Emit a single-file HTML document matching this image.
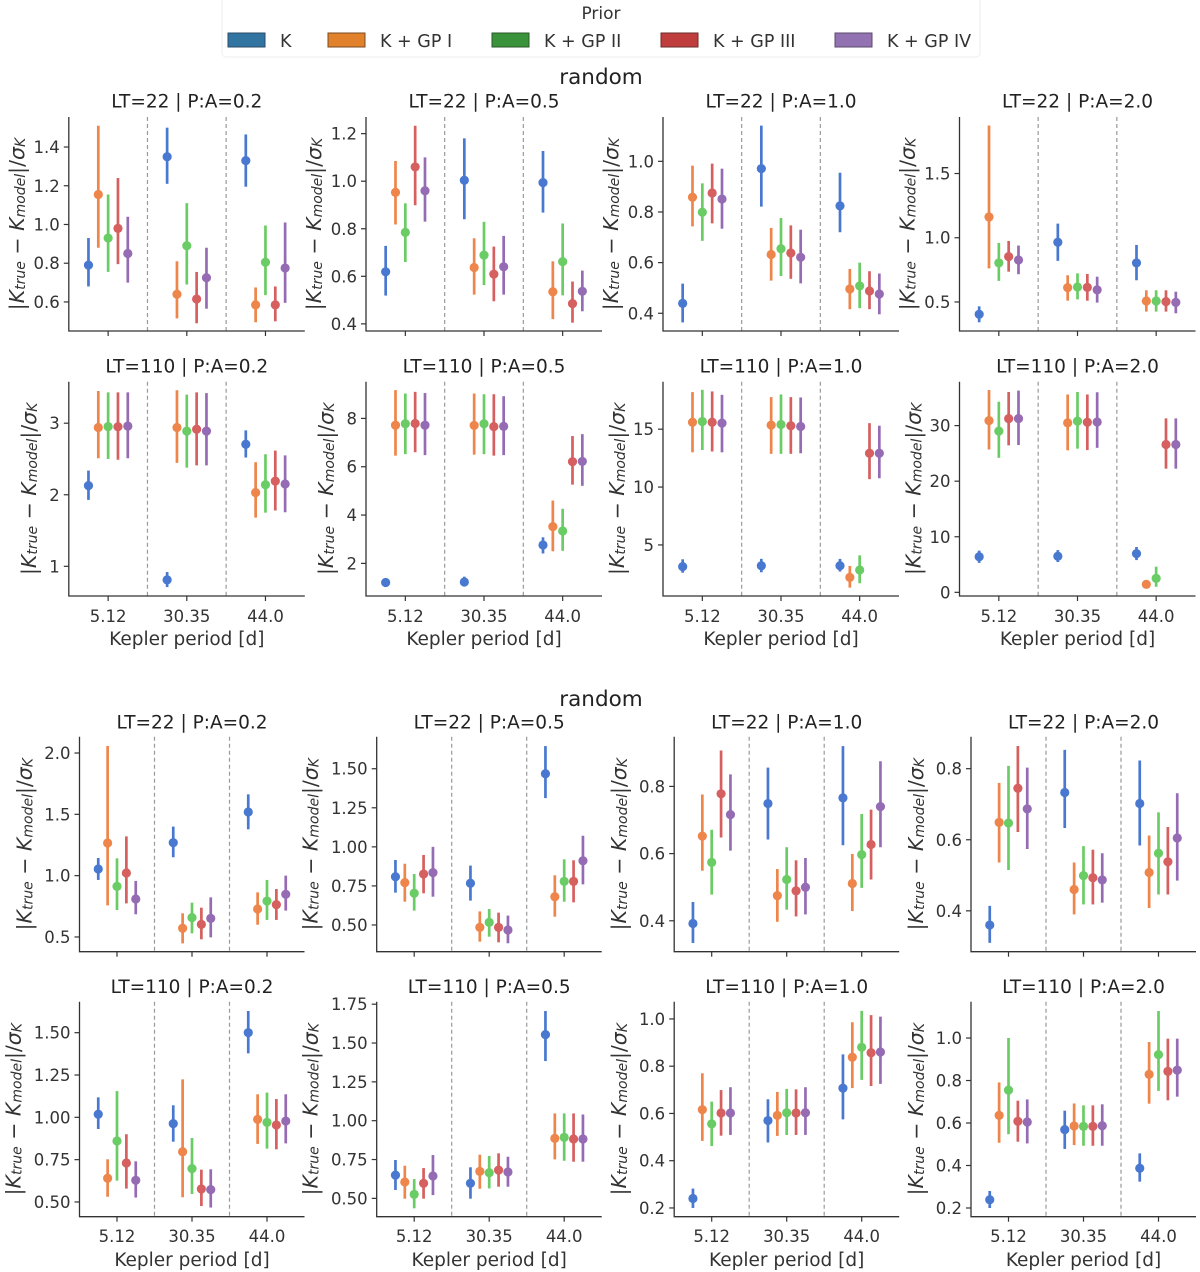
<!DOCTYPE html>
<html><head><meta charset="utf-8">
<style>
html,body{margin:0;padding:0;background:#fff;}
svg{display:block;font-family:"DejaVu Sans","Liberation Sans",sans-serif;}
</style></head>
<body>
<svg id="fig" width="1200" height="1272" viewBox="0 0 1200 1272" xmlns="http://www.w3.org/2000/svg">
  <g>
    <rect x="222" y="-4" width="758" height="61" rx="4" fill="#fff" stroke="#eeeeee" stroke-width="1"/>
    <text x="601" y="19" font-size="17" fill="#333" text-anchor="middle">Prior</text>
    <g><rect x="228" y="33" width="37" height="14" fill="#3274a1" stroke="#2a4d6a" stroke-width="1"/><text x="280" y="47" font-size="17.5" fill="#333">K</text></g>
    <g><rect x="328" y="33" width="37" height="14" fill="#e1812c" stroke="#7a4a20" stroke-width="1"/><text x="380" y="47" font-size="17.5" fill="#333">K + GP I</text></g>
    <g><rect x="492" y="33" width="37" height="14" fill="#3a923a" stroke="#2a5a2a" stroke-width="1"/><text x="544" y="47" font-size="17.5" fill="#333">K + GP II</text></g>
    <g><rect x="661" y="33" width="37" height="14" fill="#c03d3e" stroke="#6a2a2a" stroke-width="1"/><text x="713" y="47" font-size="17.5" fill="#333">K + GP III</text></g>
    <g><rect x="835" y="33" width="37" height="14" fill="#9372b2" stroke="#5a4a6a" stroke-width="1"/><text x="887" y="47" font-size="17.5" fill="#333">K + GP IV</text></g>
  </g>
  <text x="601" y="84" font-size="21.5" fill="#222" text-anchor="middle">random</text>
  <text x="601" y="706" font-size="21.5" fill="#222" text-anchor="middle">random</text>
</svg>
<script>
// ---------- data ----------
const categories = ['5.12','30.35','44.0'];
const priors = ['K','K + GP I','K + GP II','K + GP III','K + GP IV'];
const colors = ['#4878d0','#ee854a','#6acc64','#d65f5f','#956cb4'];
const titles = ['LT=22 | P:A=0.2','LT=22 | P:A=0.5','LT=22 | P:A=1.0','LT=22 | P:A=2.0',
                'LT=110 | P:A=0.2','LT=110 | P:A=0.5','LT=110 | P:A=1.0','LT=110 | P:A=2.0'];

// top figure: per panel [prior][category]
const t1_mean=[[0.79,1.35,1.33],[1.155,0.64,0.585],[0.93,0.89,0.805],[0.98,0.615,0.585],[0.85,0.725,0.775]];
const t1_lo=[[0.68,1.21,1.195],[0.88,0.515,0.495],[0.755,0.69,0.635],[0.795,0.49,0.50],[0.70,0.565,0.595]];
const t1_hi=[[0.93,1.50,1.465],[1.51,0.81,0.675],[1.155,1.11,0.995],[1.24,0.755,0.68],[1.04,0.88,1.01]];
const t2_mean=[[0.619,1.004,0.994],[0.953,0.637,0.535],[0.785,0.689,0.662],[1.06,0.609,0.485],[0.96,0.64,0.537]];
const t2_lo=[[0.519,0.84,0.868],[0.818,0.523,0.42],[0.66,0.563,0.52],[0.899,0.495,0.405],[0.83,0.523,0.453]];
const t2_hi=[[0.728,1.18,1.127],[1.085,0.76,0.663],[0.907,0.829,0.822],[1.233,0.725,0.578],[1.1,0.77,0.624]];
const t3_mean=[[0.439,0.971,0.824],[0.858,0.632,0.496],[0.799,0.655,0.508],[0.875,0.638,0.488],[0.851,0.621,0.476]];
const t3_lo=[[0.364,0.821,0.72],[0.743,0.529,0.416],[0.686,0.547,0.42],[0.755,0.536,0.416],[0.734,0.518,0.396]];
const t3_hi=[[0.517,1.141,0.955],[0.983,0.737,0.575],[0.913,0.776,0.6],[0.991,0.747,0.566],[0.971,0.730,0.557]];
const t4_mean=[[0.404,0.965,0.804],[1.162,0.612,0.508],[0.804,0.617,0.508],[0.853,0.614,0.503],[0.827,0.594,0.497]];
const t4_lo=[[0.342,0.82,0.669],[0.762,0.51,0.425],[0.664,0.52,0.425],[0.736,0.51,0.425],[0.716,0.495,0.412]];
const t4_hi=[[0.466,1.11,0.944],[1.874,0.708,0.591],[0.96,0.723,0.591],[0.975,0.718,0.591],[0.939,0.697,0.58]];
const t5_mean=[[2.128,0.81,2.706],[2.94,2.94,2.03],[2.953,2.89,2.14],[2.95,2.915,2.19],[2.96,2.89,2.15]];
const t5_lo=[[1.928,0.71,2.52],[2.51,2.445,1.68],[2.5,2.38,1.75],[2.49,2.41,1.78],[2.51,2.41,1.755]];
const t5_hi=[[2.338,0.92,2.9],[3.45,3.46,2.455],[3.43,3.4,2.566],[3.43,3.43,2.617],[3.43,3.42,2.55]];
const t6_mean=[[1.21,1.23,2.76],[7.72,7.71,3.52],[7.78,7.78,3.34],[7.79,7.66,6.21],[7.72,7.67,6.22]];
const t6_lo=[[1.03,1.06,2.41],[6.46,6.5,2.5],[6.52,6.52,2.52],[6.6,6.46,5.26],[6.48,6.48,5.21]];
const t6_hi=[[1.37,1.45,3.08],[9.17,9.03,4.6],[9.03,9.0,4.26],[9.1,9.0,7.27],[9.05,8.92,7.35]];
const t7_mean=[[3.13,3.2,3.2],[15.6,15.35,2.2],[15.66,15.4,2.84],[15.6,15.3,12.92],[15.52,15.23,12.92]];
const t7_lo=[[2.6,2.64,2.7],[13.0,12.87,1.31],[13.2,12.87,1.69],[13.07,12.87,10.68],[13.0,12.92,10.76]];
const t7_hi=[[3.76,3.8,3.8],[18.2,17.77,3.18],[18.4,18.0,4.1],[18.26,17.77,15.52],[17.97,17.74,15.3]];
const t8_mean=[[6.4,6.5,6.96],[30.9,30.5,1.44],[29.0,30.8,2.52],[31.25,30.6,26.6],[31.25,30.65,26.6]];
const t8_lo=[[5.3,5.45,5.8],[25.7,25.55,0.96],[24.2,25.85,1.0],[26.45,25.6,22.25],[26.5,26.0,22.25]];
const t8_hi=[[7.5,7.6,8.16],[36.4,35.6,1.86],[34.3,36.05,4.62],[36.05,35.6,31.3],[36.3,36.0,31.3]];

// bottom figure
const b1_mean=[[1.054,1.269,1.519],[1.266,0.571,0.728],[0.913,0.658,0.793],[1.022,0.603,0.764],[0.81,0.652,0.848]];
const b1_lo=[[0.965,1.15,1.378],[0.758,0.448,0.6],[0.72,0.53,0.639],[0.774,0.481,0.639],[0.685,0.497,0.715]];
const b1_hi=[[1.144,1.4,1.663],[2.057,0.693,0.864],[1.141,0.78,0.965],[1.32,0.739,0.891],[0.957,0.823,1.0]];
const b2_mean=[[0.809,0.767,1.468],[0.771,0.485,0.681],[0.703,0.517,0.779],[0.826,0.485,0.779],[0.835,0.468,0.911]];
const b2_lo=[[0.707,0.656,1.312],[0.649,0.393,0.553],[0.592,0.425,0.649],[0.703,0.389,0.645],[0.681,0.383,0.76]];
const b2_hi=[[0.916,0.88,1.645],[0.892,0.587,0.818],[0.826,0.602,0.92],[0.948,0.579,0.914],[1.0,0.56,1.071]];
const b3_mean=[[0.392,0.749,0.766],[0.652,0.475,0.511],[0.574,0.523,0.597],[0.778,0.489,0.627],[0.716,0.5,0.74]];
const b3_lo=[[0.334,0.642,0.625],[0.549,0.397,0.429],[0.478,0.433,0.498],[0.648,0.413,0.523],[0.609,0.419,0.619]];
const b3_hi=[[0.456,0.856,0.92],[0.776,0.554,0.599],[0.671,0.619,0.718],[0.907,0.58,0.731],[0.836,0.587,0.875]];
const b4_mean=[[0.36,0.733,0.702],[0.649,0.46,0.508],[0.647,0.499,0.562],[0.745,0.493,0.538],[0.687,0.487,0.605]];
const b4_lo=[[0.31,0.633,0.584],[0.536,0.39,0.408],[0.515,0.418,0.446],[0.622,0.418,0.446],[0.574,0.423,0.485]];
const b4_hi=[[0.414,0.853,0.823],[0.76,0.536,0.612],[0.808,0.582,0.677],[0.864,0.572,0.636],[0.803,0.562,0.731]];
const b5_mean=[[1.018,0.963,1.5],[0.64,0.797,0.988],[0.86,0.697,0.97],[0.73,0.577,0.955],[0.628,0.573,0.978]];
const b5_lo=[[0.931,0.856,1.378],[0.531,0.528,0.843],[0.626,0.547,0.815],[0.579,0.476,0.811],[0.526,0.467,0.846]];
const b5_hi=[[1.118,1.071,1.628],[0.752,1.224,1.136],[1.155,0.878,1.146],[0.9,0.691,1.108],[0.74,0.693,1.136]];
const b6_mean=[[0.65,0.597,1.554],[0.605,0.674,0.886],[0.526,0.665,0.893],[0.597,0.682,0.882],[0.644,0.67,0.882]];
const b6_lo=[[0.554,0.498,1.384],[0.498,0.562,0.751],[0.436,0.564,0.742],[0.498,0.575,0.736],[0.521,0.575,0.736]];
const b6_hi=[[0.747,0.7,1.706],[0.71,0.781,1.047],[0.624,0.773,1.047],[0.695,0.79,1.047],[0.779,0.768,1.04]];
const b7_mean=[[0.24,0.57,0.707],[0.616,0.592,0.838],[0.556,0.603,0.88],[0.602,0.602,0.857],[0.602,0.603,0.86]];
const b7_lo=[[0.2,0.477,0.575],[0.484,0.505,0.707],[0.462,0.509,0.742],[0.506,0.509,0.716],[0.509,0.509,0.725]];
const b7_hi=[[0.282,0.66,0.85],[0.77,0.691,0.986],[0.65,0.704,1.034],[0.699,0.702,1.016],[0.711,0.711,1.01]];
const b8_mean=[[0.239,0.569,0.387],[0.636,0.586,0.829],[0.755,0.584,0.922],[0.608,0.584,0.843],[0.605,0.587,0.849]];
const b8_lo=[[0.2,0.478,0.324],[0.507,0.496,0.691],[0.547,0.493,0.751],[0.512,0.493,0.707],[0.504,0.493,0.724]];
const b8_hi=[[0.28,0.658,0.457],[0.791,0.692,0.981],[1.0,0.683,1.127],[0.705,0.683,0.997],[0.711,0.688,0.997]];

// y-axis tick labels per panel
const t1_ticks=['0.6','0.8','1.0','1.2','1.4'];
const t2_ticks=['0.4','0.6','0.8','1.0','1.2'];
const t3_ticks=['0.4','0.6','0.8','1.0'];
const t4_ticks=['0.5','1.0','1.5'];
const t5_ticks=['1','2','3'];
const t6_ticks=['2','4','6','8'];
const t7_ticks=['5','10','15'];
const t8_ticks=['0','10','20','30'];
const b1_ticks=['0.5','1.0','1.5','2.0'];
const b2_ticks=['0.50','0.75','1.00','1.25','1.50'];
const b3_ticks=['0.4','0.6','0.8'];
const b4_ticks=['0.4','0.6','0.8'];
const b5_ticks=['0.50','0.75','1.00','1.25','1.50'];
const b6_ticks=['0.50','0.75','1.00','1.25','1.50','1.75'];
const b7_ticks=['0.2','0.4','0.6','0.8','1.0'];
const b8_ticks=['0.2','0.4','0.6','0.8','1.0'];

// y limits per panel
const t_ylims=[[0.45,1.555],[0.37,1.27],[0.33,1.175],[0.274,1.94],[0.585,3.58],[0.65,9.52],[0.59,19.1],[-0.66,37.9]];
const b_ylims=[[0.38,2.133],[0.329,1.705],[0.308,0.948],[0.285,0.890],[0.413,1.683],[0.382,1.766],[0.163,1.073],[0.159,1.171]];

// ---------- layout ----------
const NS='http://www.w3.org/2000/svg';
const svg=document.getElementById('fig');
const dodge=[-0.25,-0.125,0,0.125,0.25];
function el(tag,attrs,parent){const e=document.createElementNS(NS,tag);for(const k in attrs)e.setAttribute(k,attrs[k]);(parent||svg).appendChild(e);return e;}

const topData=[[t1_mean,t1_lo,t1_hi,t1_ticks],[t2_mean,t2_lo,t2_hi,t2_ticks],[t3_mean,t3_lo,t3_hi,t3_ticks],[t4_mean,t4_lo,t4_hi,t4_ticks],
               [t5_mean,t5_lo,t5_hi,t5_ticks],[t6_mean,t6_lo,t6_hi,t6_ticks],[t7_mean,t7_lo,t7_hi,t7_ticks],[t8_mean,t8_lo,t8_hi,t8_ticks]];
const botData=[[b1_mean,b1_lo,b1_hi,b1_ticks],[b2_mean,b2_lo,b2_hi,b2_ticks],[b3_mean,b3_lo,b3_hi,b3_ticks],[b4_mean,b4_lo,b4_hi,b4_ticks],
               [b5_mean,b5_lo,b5_hi,b5_ticks],[b6_mean,b6_lo,b6_hi,b6_ticks],[b7_mean,b7_lo,b7_hi,b7_ticks],[b8_mean,b8_lo,b8_hi,b8_ticks]];

const figs=[
  {name:'top',lefts:[68.8,366,663,959.5],width:236,rows:[{top:117,bottom:331,title:101},{top:381.7,bottom:596,title:366}],
   tickY:616,xlabY:638,data:topData,ylims:t_ylims,labBase:34,labChar:6},
  {name:'bottom',lefts:[79.5,376.7,674.2,971],width:225,rows:[{top:736.7,bottom:951.7,title:722},{top:1001.7,bottom:1216.7,title:986.7}],
   tickY:1236,xlabY:1259,data:botData,ylims:b_ylims,labBase:22,labChar:11}
];

figs.forEach(function(f){
  for(let p=0;p<8;p++){
    const r=Math.floor(p/4), c=p%4;
    const row=f.rows[r];
    const L=f.lefts[c], R=L+f.width, T=row.top, B=row.bottom;
    const d=f.data[p]; const mean=d[0], lo=d[1], hi=d[2], ticks=d[3];
    const yl=f.ylims[p];
    const x=function(ci){return L+(ci+0.5)/categories.length*f.width;};
    const y=function(v){return B-(v-yl[0])/(yl[1]-yl[0])*(B-T);};
    const g=el('g',{});
    
    
    const tt=el('text',{x:(L+R)/2,y:row.title+6.5,'font-size':18.5,fill:'#222','text-anchor':'middle'},g);
    tt.textContent=titles[p];
    
    
    for(let k=1;k<categories.length;k++){
      const xs=L+k/categories.length*f.width;
      const dl=el('line',{x1:xs,x2:xs,y1:T,y2:B,stroke:'#999','stroke-width':1.2,'stroke-dasharray':'4,3'},g);
      
      
    }
    let maxChars=0;
    ticks.forEach(function(t){
      const v=parseFloat(t), yy=y(v);
      maxChars=Math.max(maxChars,t.length);
      const tl=el('line',{x1:L-5,x2:L,y1:yy,y2:yy,stroke:'#333','stroke-width':1.2},g);
      
      
      const tx=el('text',{x:L-9,y:yy+6,'font-size':16.5,fill:'#333','text-anchor':'end'},g);
      tx.textContent=t;
      
      
    });
    const lx=L-(f.labBase+maxChars*f.labChar);
    const ylab=el('text',{x:lx,y:(T+B)/2,'font-size':20.5,fill:'#333','text-anchor':'middle','dominant-baseline':'central',transform:'rotate(-90 '+lx+' '+(T+B)/2+')'},g);
    ylab.innerHTML='|<tspan font-style="italic">K</tspan><tspan font-size="14" font-style="italic" dy="4">true</tspan><tspan dy="-4"> − </tspan><tspan font-style="italic">K</tspan><tspan font-size="14" font-style="italic" dy="4">model</tspan><tspan dy="-4">|/</tspan><tspan font-style="italic">σ</tspan><tspan font-size="14" font-style="italic" dy="4">K</tspan>';
    
    
    const sp=el('path',{d:'M'+L+' '+T+' L'+L+' '+B+' L'+R+' '+B,fill:'none',stroke:'#333','stroke-width':1.3},g);
    
    
    categories.forEach(function(cat,ci){
      const xl=el('line',{x1:x(ci),x2:x(ci),y1:B,y2:B+5,stroke:'#333','stroke-width':1.2},g);
      
      
      if(r===1){
        const xt=el('text',{x:x(ci),y:f.tickY+6,'font-size':16.5,fill:'#333','text-anchor':'middle'},g);
        xt.textContent=cat;
        
        
      }
    });
    if(r===1){
      const xlab=el('text',{x:(L+R)/2,y:f.xlabY+7,'font-size':18.5,fill:'#333','text-anchor':'middle'},g);
      xlab.textContent='Kepler period [d]';
      
      
    }
    priors.forEach(function(pr,si){
      categories.forEach(function(cat,ci){
        const cx=x(ci+dodge[si]);
        const eb=el('line',{x1:cx,x2:cx,y1:y(lo[si][ci]),y2:y(hi[si][ci]),stroke:colors[si],'stroke-width':2.7},g);
        
        
        const pt=el('circle',{cx:cx,cy:y(mean[si][ci]),r:4.6,fill:colors[si]},g);
        
        
      });
    });
  }
});
</script>
</body></html>
